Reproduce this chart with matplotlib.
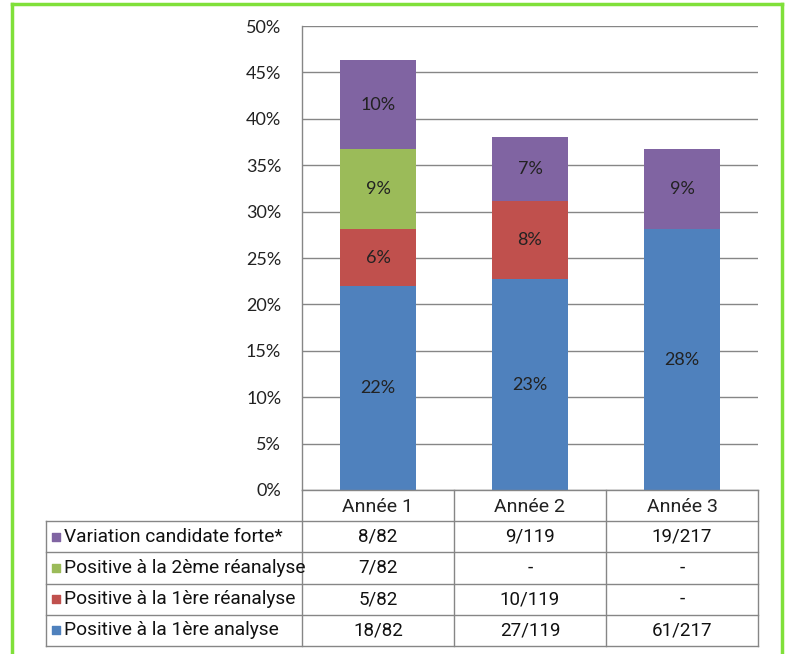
import matplotlib
matplotlib.use("Agg")

import matplotlib.pyplot as plt
import matplotlib.ticker as mticker
from matplotlib.lines import Line2D
import numpy as np

# ── Data ────────────────────────────────────────────────────────────────────
YEARS = ["Année 1", "Année 2", "Année 3"]

# stacked bar segments (% of patients), bottom to top
POS_1ERE_ANALYSE   = [22.0, 22.7, 28.1]
POS_1ERE_REANALYSE = [6.1, 8.4, 0.0]
POS_2EME_REANALYSE = [8.6, 0.0, 0.0]
VARIATION_FORTE    = [9.6, 6.9, 8.6]

# data table rows (top to bottom)
ROW_LABELS = [
    "Variation candidate forte*",
    "Positive à la 2ème réanalyse",
    "Positive à la 1ère réanalyse",
    "Positive à la 1ère analyse",
]
ROW_VALUES = [
    ["8/82", "9/119", "19/217"],
    ["7/82", "-", "-"],
    ["5/82", "10/119", "-"],
    ["18/82", "27/119", "61/217"],
]

YTICKS = [0, 5, 10, 15, 20, 25, 30, 35, 40, 45, 50]

# ── Style ───────────────────────────────────────────────────────────────────
COLORS = {
    "blue":   "#4F81BD",
    "red":    "#C0504D",
    "green":  "#9BBB59",
    "purple": "#8064A2",
}
GRID = "#868686"
BORDER = "#80E03A"
TABLE_FONT = ["Roboto", "DejaVu Sans"]
TICK_FONT = ["Lato", "DejaVu Sans"]

W, H = 786, 654
fig = plt.figure(figsize=(W / 100, H / 100), dpi=100)
fig.patch.set_facecolor("white")


def fx(px):
    return px / W


def fy(py):
    return 1 - py / H


# plot area in pixels
PL, PR, PT, PB = 302, 758, 26, 490
ax = fig.add_axes([fx(PL), fy(PB), fx(PR) - fx(PL), fy(PT) - fy(PB)])

x = np.arange(len(YEARS))
width = 0.5
series = [
    (POS_1ERE_ANALYSE, COLORS["blue"]),
    (POS_1ERE_REANALYSE, COLORS["red"]),
    (POS_2EME_REANALYSE, COLORS["green"]),
    (VARIATION_FORTE, COLORS["purple"]),
]
bottom = np.zeros(len(YEARS))
for vals, col in series:
    vals = np.array(vals)
    ax.bar(x, vals, width, bottom=bottom, color=col, linewidth=0, zorder=3)
    for xi, b, v in zip(x, bottom, vals):
        if v > 0:
            ax.text(xi, b + v / 2, f"{int(round(v))}%", ha="center", va="center",
                    fontsize=13, color="#222222", family=TICK_FONT, zorder=4)
    bottom += vals

ax.set_xlim(-0.5, 2.5)
ax.set_ylim(0, 50)
ax.set_yticks(YTICKS)
ax.yaxis.set_major_formatter(mticker.FuncFormatter(lambda v, p: f"{int(v)}%"))
ax.tick_params(axis="y", length=0, pad=15, labelsize=13, labelcolor="#222222")
for lab in ax.get_yticklabels():
    lab.set_family(TICK_FONT)
ax.set_xticks([])
ax.yaxis.grid(True, color=GRID, lw=1.0, zorder=0)
ax.set_axisbelow(True)
for s in ["top", "right", "bottom"]:
    ax.spines[s].set_visible(False)
ax.spines["left"].set_color(GRID)
ax.spines["left"].set_linewidth(1.0)

# ── Data table ──────────────────────────────────────────────────────────────
TL, TB = 46, 646
col_w = (PR - PL) / 3.0
label_cols = (PL - TL) / col_w
tab = fig.add_axes([fx(TL), fy(TB), fx(PR) - fx(TL), fy(PB) - fy(TB)])
tab.set_xlim(-0.5 - label_cols, 2.5)
tab.set_ylim(5, 0)
tab.axis("off")

line_kw = dict(color=GRID, lw=1.0, clip_on=False)
# header row
tab.plot([-0.5, 2.5], [0, 0], **line_kw)
for i, yr in enumerate(YEARS):
    tab.text(i, 0.55, yr, ha="center", va="center", fontsize=14,
             family=TABLE_FONT, color="#222222")
# horizontal lines
for r in range(1, 6):
    tab.plot([-0.5 - label_cols, 2.5], [r, r], **line_kw)
# vertical lines
tab.plot([-0.5 - label_cols] * 2, [1, 5], **line_kw)
for c in [-0.5, 0.5, 1.5, 2.5]:
    tab.plot([c, c], [0, 5], **line_kw)

row_colors = [COLORS["purple"], COLORS["green"], COLORS["red"], COLORS["blue"]]
for r, (lab, vals, col) in enumerate(zip(ROW_LABELS, ROW_VALUES, row_colors)):
    yc = r + 1.5
    tab.scatter([-0.5 - label_cols + 0.066], [yc], marker="s", s=40, color=col,
                clip_on=False)
    tab.text(-0.5 - label_cols + 0.12, yc, lab, ha="left", va="center",
             fontsize=13.8, family=TABLE_FONT, color="#111111")
    for i, v in enumerate(vals):
        tab.text(i, yc, v, ha="center", va="center", fontsize=13.5,
                 family=TABLE_FONT, color="#111111")

# ── Green frame ─────────────────────────────────────────────────────────────
for xs, ys in [([12, 782], [4, 4]), ([12, 12], [4, 660]), ([782, 782], [4, 660])]:
    fig.add_artist(Line2D([fx(v) for v in xs], [fy(v) for v in ys],
                          color=BORDER, lw=2.5, transform=fig.transFigure))

fig.savefig("out.png", dpi=100, facecolor="white")
